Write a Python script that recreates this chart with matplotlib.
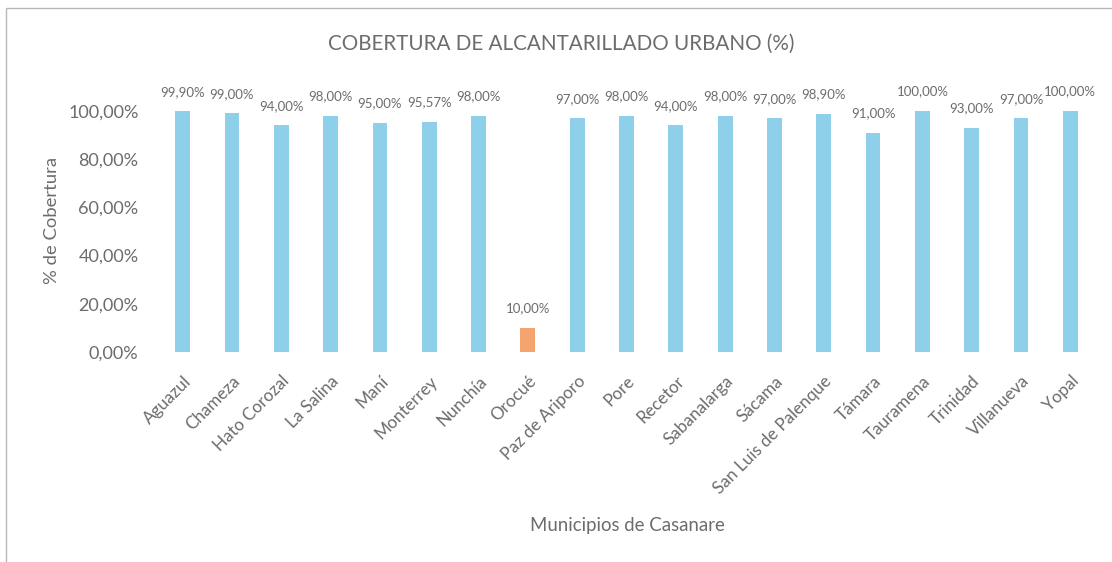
import matplotlib
matplotlib.use("Agg")
import matplotlib.pyplot as plt
from matplotlib.patches import Rectangle

municipios = ["Aguazul", "Chameza", "Hato Corozal", "La Salina", "Maní",
              "Monterrey", "Nunchía", "Orocué", "Paz de Ariporo", "Pore",
              "Recetor", "Sabanalarga", "Sácama", "San Luis de Palenque",
              "Támara", "Tauramena", "Trinidad", "Villanueva", "Yopal"]
cobertura = [99.90, 99.00, 94.00, 98.00, 95.00, 95.57, 98.00, 10.00, 97.00,
             98.00, 94.00, 98.00, 97.00, 98.90, 91.00, 100.00, 93.00, 97.00,
             100.00]
y_ticks = [0, 20, 40, 60, 80, 100]

gris = "#6f6b6b"
azul = "#8ecfea"
naranja = "#f4a46e"
plt.rcParams["font.family"] = ["Lato", "DejaVu Sans"]

W, H = 1112, 562
fig = plt.figure(figsize=(W / 100, H / 100), dpi=100)
# marco del grafico (recortado a la derecha y abajo)
fig.patches.append(Rectangle((6 / W, -0.1), 1.2, 1 - 8 / H + 0.1,
                             transform=fig.transFigure, fill=False,
                             edgecolor="#b8b8b8", linewidth=1))

ax = fig.add_axes([158 / W, 1 - 352 / H, (1095 - 158) / W, (352 - 111) / H])
x = list(range(len(municipios)))
colores = [naranja if v < 50 else azul for v in cobertura]
ax.bar(x, cobertura, width=0.30, color=colores)

for xi, v in zip(x, cobertura):
    etiqueta = f"{v:.2f}%".replace(".", ",")
    ax.annotate(etiqueta, (xi, v), xytext=(0, 14), textcoords="offset points",
                ha="center", va="center", fontsize=9.5, color=gris,
                annotation_clip=False)

ax.set_xlim(-0.5, len(municipios) - 0.5)
ax.set_ylim(0, 100)
ax.set_yticks(y_ticks)
ax.set_yticklabels([f"{t},00%" for t in y_ticks], fontsize=13, color=gris)
ax.set_xticks(x)
ax.set_xticklabels(municipios, rotation=45, ha="right", rotation_mode="anchor",
                   fontsize=12.3, color=gris)
ax.tick_params(axis="both", length=0)
ax.tick_params(axis="y", pad=14)
ax.tick_params(axis="x", pad=15)
for s in ax.spines.values():
    s.set_visible(False)

fig.text(52 / W, 1 - 220 / H, "% de Cobertura", rotation=90, ha="center",
         va="center", fontsize=13.3, color=gris)
fig.text(627 / W, 1 - 525 / H, "Municipios de Casanare", ha="center",
         va="center", fontsize=13.4, color=gris)
fig.text(561 / W, 1 - 44 / H, "COBERTURA DE ALCANTARILLADO URBANO (%)",
         ha="center", va="center", fontsize=14.9, color=gris)

fig.savefig("out.png", dpi=100)
